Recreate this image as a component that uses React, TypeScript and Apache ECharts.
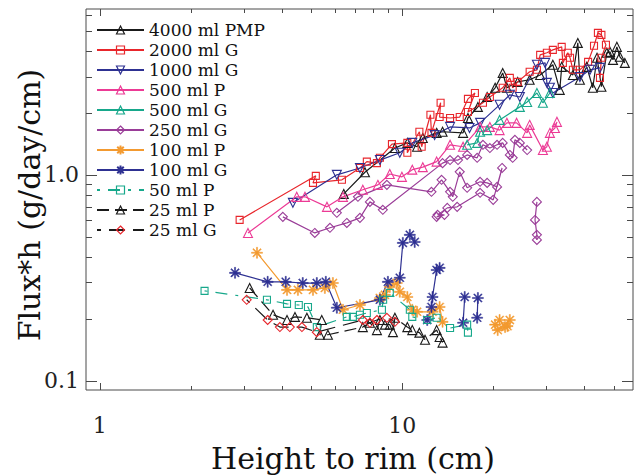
import React, { useEffect, useRef } from 'react';
import * as echarts from 'echarts';

// ---- axis ticks / labels ----
const xMajorTicks = [1, 10];
const xTickLabels = ['1', '10'];
const xMinorTicks = [2, 3, 4, 5, 6, 7, 8, 9, 20, 30, 40, 50];
const yMajorTicks = [0.1, 1];
const yTickLabels = ['0.1', '1.0'];
const yMinorTicks = [0.2, 0.3, 0.4, 0.5, 0.6, 0.7, 0.8, 0.9, 2, 3, 4, 5, 6];

const xTitle = 'Height to rim (cm)';
const yTitle = 'Flux*h (g/day/cm)';

const seriesNames = ['4000 ml PMP', '2000 ml G', '1000 ml G', '500 ml P', '500 ml G', '250 ml G', '100 ml P', '100 ml G', '50 ml P', '25 ml P', '25 ml G'];

// ---- data: [height to rim (cm), flux*h] ----
const s4000PMP = [[6.41, 0.808], [7.53, 1.03], [9.46, 1.35], [10.4, 1.43], [11.2, 1.37], [11.7, 1.51], [13.0, 1.60], [13.6, 1.62], [15.9, 1.60], [16.5, 1.89], [17.8, 2.14], [19.1, 2.39], [20.3, 2.65], [21.5, 3.13], [22.2, 2.65], [24.1, 2.83], [26.4, 2.90], [28.6, 3.06], [31.5, 3.43], [33.2, 2.59], [33.7, 3.35], [36.7, 3.06], [38.1, 4.38], [38.7, 2.90], [40.8, 3.35], [42.7, 2.65], [44.1, 3.71], [45.6, 2.68], [47.5, 3.92], [48.7, 3.96], [49.8, 3.62], [51.3, 4.19], [52.5, 3.75], [54.5, 3.50]];

const s2000G = [[2.90, 0.604], [5.18, 0.989], [5.07, 0.914], [6.32, 0.946], [7.25, 1.08], [7.64, 1.16], [8.25, 1.14], [8.44, 1.21], [9.25, 1.41], [10.4, 1.43], [10.4, 1.28], [11.4, 1.62], [11.6, 1.37], [12.4, 1.96], [12.5, 1.60], [13.4, 2.24], [13.3, 1.91], [14.4, 1.89], [15.5, 1.91], [16.5, 2.34], [17.4, 2.50], [16.5, 2.02], [18.5, 2.24], [19.5, 2.39], [21.5, 2.65], [22.7, 2.96], [23.2, 2.65], [24.1, 2.83], [26.4, 3.17], [27.9, 3.24], [28.6, 3.83], [30.1, 3.92], [31.5, 4.05], [33.7, 4.19], [34.0, 3.50], [35.3, 3.92], [35.9, 3.71], [36.7, 3.24], [38.7, 3.24], [41.2, 3.54], [43.1, 4.24], [44.4, 4.90], [45.6, 4.79], [47.2, 4.29], [45.6, 3.71], [45.1, 2.96]];

const s1000G = [[4.35, 0.731], [6.08, 1.0], [7.25, 1.08], [8.44, 1.18], [9.82, 1.28], [10.8, 1.43], [12.8, 1.56], [14.4, 1.71], [16.7, 1.69], [18.1, 1.79], [21.0, 2.19], [22.7, 2.45], [24.5, 2.39], [27.9, 3.43], [29.7, 3.50], [30.1, 2.80], [30.8, 2.65], [31.5, 2.50], [38.7, 2.99], [41.8, 3.24], [45.1, 3.31]];

const s500P = [[3.09, 0.522], [4.48, 0.782], [4.77, 0.782], [5.64, 0.699], [6.37, 0.782], [7.41, 0.846], [8.31, 0.894], [9.10, 1.01], [9.98, 0.978], [10.8, 1.06], [11.7, 1.09], [13.0, 1.16], [14.4, 1.40], [15.9, 1.37], [18.1, 1.71], [19.5, 1.71], [21.0, 1.65], [22.2, 1.79], [23.9, 1.79], [25.9, 1.60], [26.4, 1.75], [29.2, 1.32], [30.1, 1.37], [30.8, 1.60], [32.0, 1.69], [32.5, 1.81]];

const s500G = [[16.4, 1.40], [17.7, 1.43], [18.1, 1.62], [19.1, 1.65], [21.0, 1.85], [24.5, 2.14], [25.9, 2.26], [27.9, 2.50], [29.2, 2.24], [30.8, 2.50]];

const s250G_a = [[4.03, 0.625], [5.14, 0.522], [5.77, 0.553], [6.56, 0.584], [7.25, 0.618], [7.82, 0.739], [8.63, 0.676], [13.6, 1.14], [14.4, 1.18], [15.3, 1.18], [16.4, 1.25], [17.7, 1.21], [18.5, 1.40], [19.5, 1.35], [20.6, 1.40], [21.5, 1.43], [22.7, 1.25], [23.2, 1.21], [23.6, 1.48], [24.5, 1.43], [25.9, 1.32]];
const s250G_b = [[6.08, 0.654], [7.14, 0.782], [8.90, 0.894], [12.5, 0.827], [13.5, 0.946], [14.4, 0.827], [14.7, 0.782], [15.5, 1.034], [16.4, 0.865], [18.1, 0.925], [19.1, 0.914], [20.6, 0.874], [21.4, 1.08], [20.0, 0.756], [18.1, 0.818], [15.2, 0.699], [14.1, 0.691], [13.1, 0.639], [13.8, 0.639], [13.0, 0.625]];
const s250G_c = [[27.9, 0.739], [27.5, 0.604], [27.9, 0.511], [27.9, 0.483]];

const s100P_a = [[3.31, 0.418], [4.16, 0.276], [4.52, 0.276], [5.07, 0.276], [5.55, 0.282], [5.90, 0.298], [6.37, 0.221], [7.25, 0.233], [8.44, 0.252], [8.77, 0.261], [9.10, 0.285], [9.60, 0.298], [9.82, 0.270], [10.4, 0.255], [10.8, 0.221], [11.2, 0.216], [12.6, 0.216], [13.3, 0.228], [13.6, 0.193]];
const s100P_b = [[20.3, 0.187], [21.0, 0.197], [21.9, 0.182], [22.7, 0.197], [20.7, 0.176], [22.3, 0.184]];

const s100G_a = [[2.80, 0.334], [3.59, 0.302], [4.12, 0.302], [4.69, 0.298], [5.22, 0.298], [5.59, 0.302], [6.08, 0.226], [8.44, 0.247], [8.97, 0.302], [9.82, 0.316], [10.05, 0.467], [10.6, 0.511], [11.0, 0.472]];
const s100G_b = [[12.1, 0.197], [12.5, 0.228], [12.6, 0.255], [13.0, 0.345], [13.3, 0.353]];
const s100G_c = [[15.9, 0.191], [16.1, 0.255]];
const s100G_d = [[17.7, 0.202], [17.8, 0.252]];

const s50P = [[2.22, 0.273], [3.57, 0.247], [4.16, 0.236], [4.55, 0.233], [4.88, 0.228], [5.22, 0.182], [6.56, 0.204], [6.87, 0.204], [7.25, 0.209], [7.64, 0.213], [8.57, 0.221], [8.65, 0.247], [9.10, 0.267], [10.6, 0.221], [10.8, 0.204], [12.1, 0.197], [13.0, 0.202], [14.4, 0.180], [16.4, 0.187], [16.5, 0.171]];

const s25P = [[3.13, 0.282], [3.74, 0.209], [4.16, 0.197], [4.42, 0.204], [4.84, 0.202], [5.42, 0.197], [5.34, 0.167], [5.68, 0.167], [7.41, 0.182], [7.82, 0.191], [8.25, 0.176], [8.44, 0.197], [8.77, 0.187], [9.10, 0.187], [9.32, 0.172], [9.46, 0.202], [10.4, 0.182], [10.8, 0.176], [11.4, 0.171], [11.9, 0.158], [13.0, 0.176], [13.3, 0.163], [13.6, 0.153]];

const s25G = [[3.06, 0.247], [3.59, 0.197], [3.94, 0.182], [4.25, 0.182], [4.66, 0.182], [5.22, 0.172], [7.41, 0.197], [7.82, 0.191], [8.25, 0.197], [8.90, 0.202], [9.46, 0.193]];

// ---- styles ----
const FONT = 'DejaVu Serif';
const AXIS = '#4a4a4a';
const BLACK = '#1a1a1a';
const RED = '#e8262c';
const BLUE = '#2e3192';
const PINK = '#ec3a95';
const TEAL = '#17a88b';
const PURPLE = '#9a3d98';
const ORANGE = '#f39a30';
const NAVY = '#2e3192';
const ASTERISK = 'path://M0 9H20V11H0Z M9 0H11V20H9Z M2.2 3.6L3.6 2.2L17.8 16.4L16.4 17.8Z M16.4 2.2L17.8 3.6L3.6 17.8L2.2 16.4Z';

type Cfg = { color: string; lineColor?: string; symbol: string; size: number; rotate?: number; hollow: boolean; dash?: any; dashOffset?: number };

function mk(name: string, data: number[][], c: Cfg) {
  return {
    type: 'line',
    name,
    data,
    symbol: c.symbol,
    symbolSize: c.size,
    symbolRotate: c.rotate || 0,
    showSymbol: true,
    clip: true,
    lineStyle: { color: c.lineColor || c.color, width: 1.2, type: c.dash || 'solid', dashOffset: c.dashOffset || 0 },
    itemStyle: c.hollow
      ? { color: 'rgba(0,0,0,0)', borderColor: c.color, borderWidth: 1.1 }
      : { color: c.color, borderColor: c.color, borderWidth: 0.5 },
    emphasis: { disabled: true },
  };
}

const cfg: Record<string, Cfg> = {
  '4000 ml PMP': { color: BLACK, symbol: 'triangle', size: 9, hollow: true },
  '2000 ml G': { color: RED, symbol: 'rect', size: 7, hollow: true },
  '1000 ml G': { color: BLUE, symbol: 'triangle', size: 9, rotate: 180, hollow: true },
  '500 ml P': { color: PINK, symbol: 'triangle', size: 9, hollow: true },
  '500 ml G': { color: TEAL, symbol: 'triangle', size: 9, hollow: true },
  '250 ml G': { color: PURPLE, symbol: 'diamond', size: 9, hollow: true },
  '100 ml P': { color: ORANGE, symbol: ASTERISK, size: 11, hollow: false },
  '100 ml G': { color: NAVY, symbol: ASTERISK, size: 11, hollow: false },
  '50 ml P': { color: TEAL, symbol: 'rect', size: 7, hollow: true, dash: [3, 8, 12, 8] },
  '25 ml P': { color: BLACK, symbol: 'triangle', size: 9, hollow: true, dash: [12, 6] },
  '25 ml G': { color: RED, lineColor: BLACK, symbol: 'diamond', size: 9, hollow: true, dash: [16, 8], dashOffset: 12 },
};

const seriesData: [string, number[][]][] = [
  ['4000 ml PMP', s4000PMP],
  ['2000 ml G', s2000G],
  ['1000 ml G', s1000G],
  ['500 ml P', s500P],
  ['500 ml G', s500G],
  ['250 ml G', s250G_a],
  ['250 ml G', s250G_b],
  ['250 ml G', s250G_c],
  ['100 ml P', s100P_a],
  ['100 ml P', s100P_b],
  ['100 ml G', s100G_a],
  ['100 ml G', s100G_b],
  ['100 ml G', s100G_c],
  ['100 ml G', s100G_d],
  ['50 ml P', s50P],
  ['25 ml P', s25P],
  ['25 ml G', s25G],
];

function matchLabel(v: number, ticks: number[], labels: string[]) {
  const i = ticks.findIndex((t) => Math.abs(Math.log10(v) - Math.log10(t)) < 1e-6);
  return i >= 0 ? labels[i] : '';
}

export default function App() {
  const ref = useRef<HTMLDivElement>(null);
  useEffect(() => {
    if (!ref.current) return;
    const chart = echarts.init(ref.current, undefined, { renderer: 'svg' });

    const xTickData = [
      ...xMajorTicks.map((v) => [v, 1, 7]),
      ...xMinorTicks.map((v) => [v, 1, 4]),
    ];
    const yTickData = [
      ...yMajorTicks.map((v) => [1, v, 11]),
      ...yMinorTicks.map((v) => [1, v, 6]),
    ];

    const tickStyle = { stroke: AXIS, lineWidth: 1 };

    const option: any = {
      animation: false,
      backgroundColor: '#ffffff',
      grid: { left: 86, right: 4, top: 9, bottom: 85, show: true, borderColor: AXIS, borderWidth: 1, backgroundColor: 'transparent' },
      xAxis: {
        type: 'log',
        logBase: 10,
        min: 0.9,
        max: 58,
        axisLine: { show: false },
        axisTick: { show: false },
        splitLine: { show: false },
        axisLabel: {
          margin: 24,
          fontFamily: FONT,
          fontSize: 22,
          color: '#222',
          showMinLabel: false,
          showMaxLabel: false,
          formatter: (v: number) => matchLabel(v, xMajorTicks, xTickLabels),
        },
      },
      yAxis: {
        type: 'log',
        logBase: 10,
        min: 0.09,
        max: 6.4,
        axisLine: { show: false },
        axisTick: { show: false },
        splitLine: { show: false },
        axisLabel: {
          margin: 7,
          fontFamily: FONT,
          fontSize: 22,
          color: '#222',
          showMinLabel: false,
          showMaxLabel: false,
          formatter: (v: number) => matchLabel(v, yMajorTicks, yTickLabels),
        },
      },
      legend: {
        orient: 'vertical',
        left: 91,
        top: 15,
        itemWidth: 47,
        itemHeight: 10,
        itemGap: 0,
        selectedMode: false,
        itemStyle: { borderWidth: 1.2 },
        textStyle: { fontFamily: FONT, fontSize: 17, color: '#111', lineHeight: 20 },
        data: seriesNames,
      },
      graphic: [
        {
          type: 'text',
          x: 353,
          y: 458,
          style: { text: xTitle, font: `30px "${FONT}"`, fontFamily: FONT, fontSize: 30, fill: '#111', align: 'center', verticalAlign: 'middle', textAlign: 'center', textVerticalAlign: 'middle' },
        },
        {
          type: 'text',
          x: 29,
          y: 205,
          rotation: Math.PI / 2,
          style: { text: yTitle, font: `30px "${FONT}"`, fontFamily: FONT, fontSize: 30, fill: '#111', align: 'center', verticalAlign: 'middle', textAlign: 'center', textVerticalAlign: 'middle' },
        },
      ],
      series: [
        ...seriesData.map(([name, data]) => mk(name, data, cfg[name])),
        {
          type: 'custom',
          name: '__xticks',
          silent: true,
          clip: false,
          data: xTickData,
          renderItem: (params: any, api: any) => {
            const cs = params.coordSys;
            const px = Math.round(api.coord([api.value(0), 1])[0]) + 0.5;
            const len = api.value(2);
            const yb = cs.y + cs.height;
            return {
              type: 'group',
              children: [
                { type: 'line', shape: { x1: px, y1: yb, x2: px, y2: yb - len }, style: tickStyle },
                { type: 'line', shape: { x1: px, y1: cs.y, x2: px, y2: cs.y + len }, style: tickStyle },
              ],
            };
          },
        },
        {
          type: 'custom',
          name: '__yticks',
          silent: true,
          clip: false,
          data: yTickData,
          renderItem: (params: any, api: any) => {
            const cs = params.coordSys;
            const py = Math.round(api.coord([1, api.value(1)])[1]) + 0.5;
            const len = api.value(2);
            const xr = cs.x + cs.width;
            return {
              type: 'group',
              children: [
                { type: 'line', shape: { x1: cs.x, y1: py, x2: cs.x + len, y2: py }, style: tickStyle },
                { type: 'line', shape: { x1: xr, y1: py, x2: xr - len, y2: py }, style: tickStyle },
              ],
            };
          },
        },
      ],
    };
    chart.setOption(option);
    return () => chart.dispose();
  }, []);

  return <div ref={ref} style={{ position: 'fixed', left: 0, top: 0, width: 637, height: 475 }} />;
}
